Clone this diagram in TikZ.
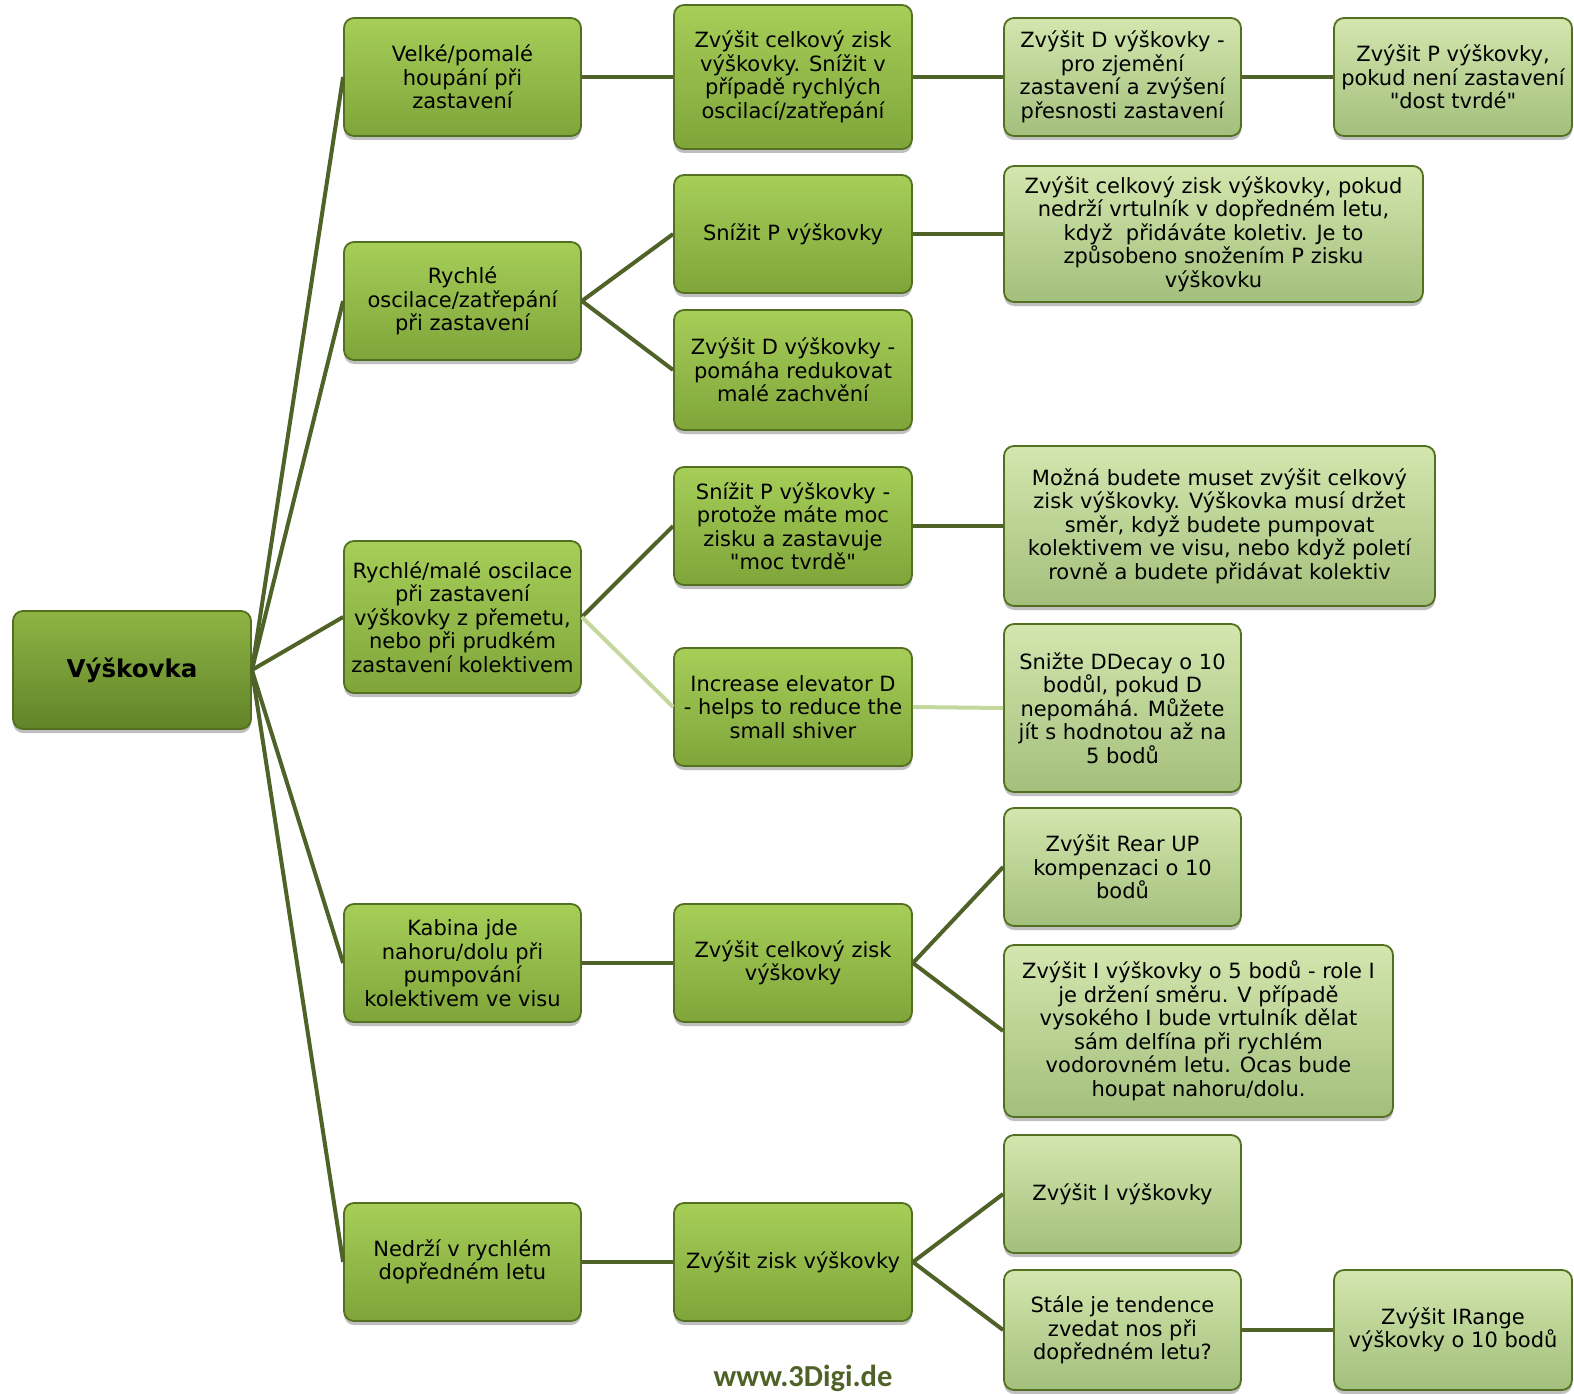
\documentclass[tikz,border=0pt]{standalone}
\usepackage{fontspec}
\setmainfont{DejaVu Sans}[Ligatures=TeXOff]
\newfontfamily\footfont{Carlito}
\usetikzlibrary{shadows}
\definecolor{boxline}{HTML}{52701F}
\definecolor{brtop}{HTML}{A6CE58}
\definecolor{brbot}{HTML}{7FA53A}
\definecolor{rttop}{HTML}{8EB444}
\definecolor{rtbot}{HTML}{62842A}
\definecolor{pltop}{HTML}{D3E6AE}
\definecolor{plbot}{HTML}{A3BF7C}
\definecolor{connc}{HTML}{4F6228}
\definecolor{connl}{HTML}{C4D89E}
\tikzset{
  box/.style={draw=boxline, rounded corners=10pt, line width=1.8pt, align=center,
    inner sep=0pt, font=\fontsize{21}{23.5}\selectfont, text=black,
    drop shadow={shadow xshift=0pt, shadow yshift=-4pt, opacity=0.25, fill=black}},
  bright/.style={box, top color=brtop, bottom color=brbot},
  pale/.style={box, top color=pltop, bottom color=plbot},
  rootbox/.style={box, top color=rttop, bottom color=rtbot,
    font=\fontsize{24.5}{28}\selectfont\bfseries},
  conn/.style={line width=4pt, draw=connc},
  connlight/.style={line width=4pt, draw=connl},
}
\begin{document}
\begin{tikzpicture}[x=1pt, y=-1pt]
\useasboundingbox (0,0) rectangle (1574,1394);
\clip (0,0) rectangle (1574,1394);
% root
\node[rootbox, minimum width=238pt, minimum height=118pt] (root) at (132,670) {Výškovka};
% column 1
\node[bright, minimum width=237pt, minimum height=118pt] (a1) at (462.5,77) {Velké/pomalé\\houpání při\\zastavení};
\node[bright, minimum width=237pt, minimum height=118pt] (a2) at (462.5,301) {Rychlé\\oscilace/zatřepání\\při zastavení};
\node[bright, minimum width=237pt, minimum height=152pt] (a3) at (462.5,617) {Rychlé/malé oscilace\\při zastavení\\výškovky z přemetu,\\nebo při prudkém\\zastavení kolektivem};
\node[bright, minimum width=237pt, minimum height=118pt] (a4) at (462.5,963) {Kabina jde\\nahoru/dolu při\\pumpování\\kolektivem ve visu};
\node[bright, minimum width=237pt, minimum height=118pt] (a5) at (462.5,1262) {Nedrží v rychlém\\dopředném letu};
% column 2
\node[bright, minimum width=238pt, minimum height=144pt] (b1) at (793,77) {Zvýšit celkový zisk\\výškovky. Snížit v\\případě rychlých\\oscilací/zatřepání};
\node[bright, minimum width=238pt, minimum height=118pt] (b2) at (793,234) {Snížit P výškovky};
\node[bright, minimum width=238pt, minimum height=120pt] (b3) at (793,370) {Zvýšit D výškovky -\\pomáha redukovat\\malé zachvění};
\node[bright, minimum width=238pt, minimum height=118pt] (b4) at (793,526) {Snížit P výškovky -\\protože máte moc\\zisku a zastavuje\\"moc tvrdě"};
\node[bright, minimum width=238pt, minimum height=118pt] (b5) at (793,707) {Increase elevator D\\- helps to reduce the\\small shiver};
\node[bright, minimum width=238pt, minimum height=118pt] (b6) at (793,963) {Zvýšit celkový zisk\\výškovky};
\node[bright, minimum width=238pt, minimum height=118pt] (b7) at (793,1262) {Zvýšit zisk výškovky};
% column 3
\node[pale, minimum width=237pt, minimum height=118pt] (c1) at (1122.5,77) {Zvýšit D výškovky -\\pro zjemění\\zastavení a zvýšení\\přesnosti zastavení};
\node[pale, minimum width=419pt, minimum height=136pt] (c2) at (1213.5,234) {Zvýšit celkový zisk výškovky, pokud\\nedrží vrtulník v dopředném letu,\\když\ \ přidáváte koletiv. Je to\\způsobeno snožením P zisku\\výškovku};
\node[pale, minimum width=431pt, minimum height=160pt] (c3) at (1219.5,526) {Možná budete muset zvýšit celkový\\zisk výškovky. Výškovka musí držet\\směr, když budete pumpovat\\kolektivem ve visu, nebo když poletí\\rovně a budete přidávat kolektiv};
\node[pale, minimum width=237pt, minimum height=168pt] (c4) at (1122.5,708) {Snižte DDecay o 10\\bodůl, pokud D\\nepomáhá. Můžete\\jít s hodnotou až na\\5 bodů};
\node[pale, minimum width=237pt, minimum height=118pt] (c5) at (1122.5,867) {Zvýšit Rear UP\\kompenzaci o 10\\bodů};
\node[pale, minimum width=389pt, minimum height=172pt] (c6) at (1198.5,1031) {Zvýšit I výškovky o 5 bodů - role I\\je držení směru. V případě\\vysokého I bude vrtulník dělat\\sám delfína při rychlém\\vodorovném letu. Ocas bude\\houpat nahoru/dolu.};
\node[pale, minimum width=237pt, minimum height=118pt] (c7) at (1122.5,1194) {Zvýšit I výškovky};
\node[pale, minimum width=237pt, minimum height=120pt] (c8) at (1122.5,1330) {Stále je tendence\\zvedat nos při\\dopředném letu?};
% column 4
\node[pale, minimum width=238pt, minimum height=118pt] (d1) at (1453,77) {Zvýšit P výškovky,\\pokud není zastavení\\"dost tvrdé"};
\node[pale, minimum width=238pt, minimum height=120pt] (d2) at (1453,1330) {Zvýšit IRange\\výškovky o 10 bodů};
% footer
\node[font=\fontsize{30.5}{32}\selectfont\footfont\bfseries, text=connc, inner sep=0pt] (foot) at (803,1378) {www.3Digi.de};
% connectors
\draw[conn] (root.east) -- (a1.west);
\draw[conn] (root.east) -- (a2.west);
\draw[conn] (root.east) -- (a3.west);
\draw[conn] (root.east) -- (a4.west);
\draw[conn] (root.east) -- (a5.west);
\draw[conn] (a1.east) -- (b1.west);
\draw[conn] (b1.east) -- (c1.west);
\draw[conn] (c1.east) -- (d1.west);
\draw[conn] (a2.east) -- (b2.west);
\draw[conn] (a2.east) -- (b3.west);
\draw[conn] (b2.east) -- (c2.west);
\draw[conn] (a3.east) -- (b4.west);
\draw[connlight] (a3.east) -- (b5.west);
\draw[conn] (b4.east) -- (c3.west);
\draw[connlight] (b5.east) -- (c4.west);
\draw[conn] (a4.east) -- (b6.west);
\draw[conn] (b6.east) -- (c5.west);
\draw[conn] (b6.east) -- (c6.west);
\draw[conn] (a5.east) -- (b7.west);
\draw[conn] (b7.east) -- (c7.west);
\draw[conn] (b7.east) -- (c8.west);
\draw[conn] (c8.east) -- (d2.west);
\end{tikzpicture}
\end{document}
